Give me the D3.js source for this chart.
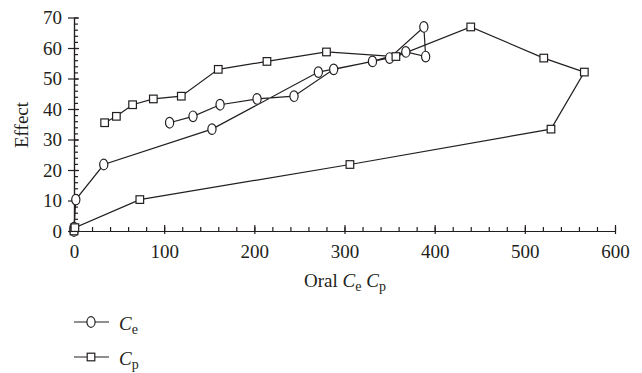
<!DOCTYPE html>
<html>
<head>
    <meta charset="utf-8" />
    <title></title>
    <style>
        body{
            margin:0;
            background:#fff;
        }
        text{
            font-family:"Liberation Serif", "DejaVu Serif", serif;
            fill:#231f20;
        }
    </style>
</head>
<body>
    <div id="chart"></div>
    <script src="https://cdn.jsdelivr.net/npm/d3@7"></script>
    <script>
        // time-ordered samples, same effect value for both concentrations
        var effect = [0, 1.1, 10.3, 21.8, 33.4, 52.1, 56.7, 66.9, 57.2, 58.7, 55.6, 53.0, 44.2, 43.3, 41.4, 37.6, 35.5];
        var ce = [0, 0, 2, 33, 153, 271, 350, 388, 390, 368, 331, 288, 244, 203, 162, 132, 106];
        var cp = [0, 1, 73, 306, 529, 566, 521, 440, 357, 280, 214, 160, 119, 88, 65, 47, 34];
        var xTicks = [0, 100, 200, 300, 400, 500, 600];
        var yTicks = [0, 10, 20, 30, 40, 50, 60, 70];

        var width = 642, height = 373;
        var ink = "#231f20";

        var svg = d3.select("#chart")
            .append("svg")
            .attr("width", width)
            .attr("height", height);

        var x = d3.scaleLinear().domain([0, 600]).range([74, 615]);
        var y = d3.scaleLinear().domain([0, 70]).range([231, 17.5]);

        // minor ticks (inside)
        svg.append("g")
            .attr("transform", "translate(0," + y(0) + ")")
            .call(d3.axisBottom(x).tickValues(d3.range(0, 601, 20)).tickSize(-4).tickSizeOuter(0).tickFormat(""));
        svg.append("g")
            .attr("transform", "translate(" + x(0) + ",0)")
            .call(d3.axisLeft(y).tickValues(d3.range(0, 71, 2)).tickSize(-4).tickSizeOuter(0).tickFormat(""));

        // major ticks + labels
        var xAxisG = svg.append("g")
            .attr("transform", "translate(0," + y(0) + ")")
            .call(d3.axisBottom(x).tickValues(xTicks).tickSize(3).tickPadding(11).tickSizeOuter(0));
        xAxisG.selectAll(".tick line").attr("y1", -6);

        var yAxisG = svg.append("g")
            .attr("transform", "translate(" + x(0) + ",0)")
            .call(d3.axisLeft(y).tickValues(yTicks).tickSize(6).tickPadding(6).tickSizeOuter(0));
        yAxisG.selectAll(".tick line").attr("x1", 5);

        svg.selectAll(".domain, .tick line")
            .attr("stroke", ink)
            .attr("stroke-width", 1.2);
        svg.selectAll(".tick text")
            .attr("fill", ink)
            .style("font-size", "19px")
            .style("font-family", "'Liberation Serif', serif");

        // axis titles
        svg.append("text")
            .attr("transform", "translate(28,125) rotate(-90)")
            .attr("text-anchor", "middle")
            .style("font-size", "19px")
            .text("Effect");

        var xTitle = svg.append("text")
            .attr("x", 345)
            .attr("y", 287)
            .attr("text-anchor", "middle")
            .style("font-size", "19px");
        xTitle.append("tspan").text("Oral ");
        xTitle.append("tspan").style("font-style", "italic").text("C");
        xTitle.append("tspan").attr("dy", 4).style("font-size", "14px").text("e");
        xTitle.append("tspan").attr("dy", -4).text(" ");
        xTitle.append("tspan").style("font-style", "italic").text("C");
        xTitle.append("tspan").attr("dy", 4).style("font-size", "14px").text("p");

        var series = [
            { name: "e", values: ce, shape: "circle" },
            { name: "p", values: cp, shape: "square" }
        ];

        var line = d3.line()
            .x(function (d) { return x(d[0]); })
            .y(function (d) { return y(d[1]); });

        function drawMarker(g, shape) {
            if (shape === "circle") {
                g.append("ellipse")
                    .attr("rx", 4.1)
                    .attr("ry", 5.3);
            } else {
                g.append("rect")
                    .attr("x", -3.8)
                    .attr("y", -3.8)
                    .attr("width", 7.6)
                    .attr("height", 7.6);
            }
            g.selectAll("ellipse, rect")
                .attr("fill", "#fff")
                .attr("stroke", ink)
                .attr("stroke-width", 1.2);
        }

        series.forEach(function (s) {
            s.points = s.values.map(function (v, i) { return [v, effect[i]]; });
            svg.append("path")
                .datum(s.points)
                .attr("d", line)
                .attr("fill", "none")
                .attr("stroke", ink)
                .attr("stroke-width", 1.2);
        });

        series.forEach(function (s) {
            svg.append("g")
                .selectAll("g")
                .data(s.points)
                .join("g")
                .attr("transform", function (d) { return "translate(" + x(d[0]) + "," + y(d[1]) + ")"; })
                .each(function () { drawMarker(d3.select(this), s.shape); });
        });

        // legend
        var legend = svg.append("g");
        series.forEach(function (s, i) {
            var ly = 322 + i * 35;
            legend.append("line")
                .attr("x1", 74).attr("x2", 109)
                .attr("y1", ly).attr("y2", ly)
                .attr("stroke", ink)
                .attr("stroke-width", 1.2);
            var m = legend.append("g").attr("transform", "translate(91," + ly + ")");
            drawMarker(m, s.shape);
            var t = legend.append("text")
                .attr("x", 119)
                .attr("y", ly + 7.5)
                .style("font-size", "19px");
            t.append("tspan").style("font-style", "italic").text("C");
            t.append("tspan").attr("dy", 4).style("font-size", "14px").text(s.name);
        });
    </script>
</body>
</html>
